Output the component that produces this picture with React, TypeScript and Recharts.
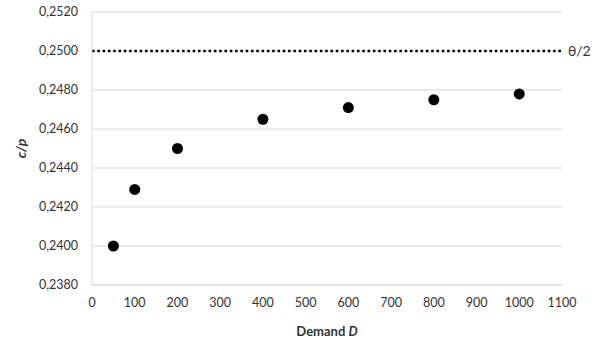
import React from 'react';
import {
  ScatterChart,
  Scatter,
  XAxis,
  YAxis,
  CartesianGrid,
  ReferenceLine,
} from 'recharts';

const demand = [50, 100, 200, 400, 600, 800, 1000];
const ratio = [0.24, 0.2429, 0.245, 0.2465, 0.2471, 0.2475, 0.2478];
const halfTheta = 0.25;
const xTicks = [0, 100, 200, 300, 400, 500, 600, 700, 800, 900, 1000, 1100];
const yTicks = [0.238, 0.24, 0.242, 0.244, 0.246, 0.248, 0.25, 0.252];

const FONT = 'Lato, "Open Sans", sans-serif';
const TEXT = '#333';
const GRID = '#d9d9d9';

const points = demand.map((d, i) => ({ x: d, y: ratio[i] }));

const Dot = (props: any) => <circle cx={props.cx} cy={props.cy} r={5.5} fill="#000" />;

const XTitle = (props: any) => {
  const { viewBox } = props;
  const cx = viewBox.x + viewBox.width / 2;
  return (
    <text x={cx} y={336} textAnchor="middle" fontFamily={FONT} fontSize={13} fontWeight="bold" fill={TEXT}>
      Demand <tspan fontStyle="italic">D</tspan>
    </text>
  );
};

const YTitle = (props: any) => {
  const { viewBox } = props;
  const cy = viewBox.y + viewBox.height / 2;
  return (
    <text
      x={26}
      y={cy}
      textAnchor="middle"
      transform={`rotate(-90, 26, ${cy})`}
      fontFamily={FONT}
      fontSize={14}
      fontWeight="bold"
      fontStyle="italic"
      fill={TEXT}
    >
      c/p
    </text>
  );
};

const ThetaLabel = (props: any) => {
  const { viewBox } = props;
  return (
    <text x={viewBox.x + viewBox.width + 6} y={viewBox.y + 5} fontFamily={FONT} fontSize={14} fill={TEXT}>
      θ/2
    </text>
  );
};

export default function App() {
  return (
    <div style={{ width: 601, height: 343, background: '#fff' }}>
      <style>{'body{margin:0}'}</style>
      <ScatterChart width={601} height={343} margin={{ top: 12, right: 39, bottom: 8, left: 0 }}>
        <CartesianGrid vertical={false} stroke={GRID} />
        <XAxis
          type="number"
          dataKey="x"
          domain={[0, 1100]}
          ticks={xTicks}
          interval={0}
          height={50}
          tickSize={0}
          tickMargin={13}
          axisLine={{ stroke: GRID }}
          tickLine={false}
          tick={{ fontFamily: FONT, fontSize: 12.5, fill: TEXT }}
          label={<XTitle />}
        />
        <YAxis
          type="number"
          dataKey="y"
          domain={[0.238, 0.252]}
          ticks={yTicks}
          interval={0}
          width={92}
          tickSize={0}
          tickMargin={14}
          axisLine={{ stroke: GRID }}
          tickLine={false}
          tick={{ fontFamily: FONT, fontSize: 12.5, fill: TEXT }}
          tickFormatter={(v: number) => v.toFixed(4).replace('.', ',')}
          label={<YTitle />}
        />
        <ReferenceLine
          y={halfTheta}
          stroke="#000"
          strokeWidth={2.5}
          strokeDasharray="2.5 2.8"
          label={<ThetaLabel />}
        />
        <Scatter data={points} shape={<Dot />} isAnimationActive={false} />
      </ScatterChart>
    </div>
  );
}
